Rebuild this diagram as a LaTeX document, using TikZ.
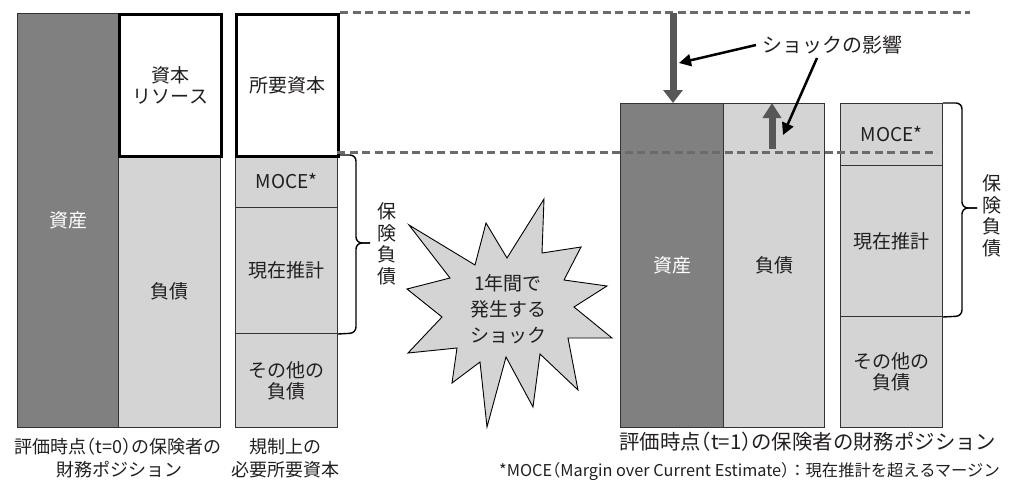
\documentclass[tikz,border=0pt]{standalone}
\usepackage{fontspec}
\setmainfont{Noto Sans CJK JP}
\newfontfamily\hw[RawFeature=+halt]{Noto Sans CJK JP}
\newcommand\lpar{{\hw （}}
\newcommand\rpar{{\hw ）}}
\usetikzlibrary{arrows.meta}
\definecolor{darkg}{HTML}{808080}
\definecolor{lightg}{HTML}{D4D4D4}
\definecolor{arrg}{HTML}{575757}
\definecolor{dashg}{HTML}{6B6B6B}
\definecolor{txt}{HTML}{231F20}
\begin{document}
\begin{tikzpicture}[x=1pt,y=-1pt,
  box/.style={draw=black!80,line width=1pt,inner sep=0pt,anchor=north west,
    font=\fontsize{19}{25}\selectfont,align=center,text=txt},
  darkbox/.style={box,fill=darkg,text=white},
  lightbox/.style={box,fill=lightg},
  capbox/.style={box,fill=white,draw=black,line width=3pt},
  captext/.style={font=\fontsize{18}{22}\selectfont,text=txt,inner sep=0pt},
  vtext/.style={font=\fontsize{19}{21.5}\selectfont,text=txt,align=center,inner sep=0pt},
  bracepath/.style={draw=black,line width=1.4pt,rounded corners=6pt},
  dashline/.style={draw=dashg,line width=3pt,dash pattern=on 8pt off 4.5pt},
  bigarrow/.style={draw=arrg,line width=7pt},
  ptr/.style={draw=black,line width=2.5pt,-{Triangle[width=12pt,length=12pt]}}
]
\useasboundingbox (0,0) rectangle (1012,487);
% ---------- left position (t=0)
\node[darkbox,minimum width=101pt,minimum height=414pt] (a0) at (17,13) {資産};
\node[lightbox,minimum width=102pt,minimum height=272pt] (l0) at (118,155) {負債};
\node[capbox,minimum width=102pt,minimum height=142pt] (cr0) at (118,13) {資本\\[-4pt]リソース};
% ---------- regulatory capital
\node[lightbox,minimum width=102pt,minimum height=52pt] (mo0) at (235,155) {MOCE*};
\node[lightbox,minimum width=102pt,minimum height=126pt] (ce0) at (235,207) {現在推計};
\node[lightbox,minimum width=102pt,minimum height=94pt] (ot0) at (235,333) {その他の\\[-4pt]負債};
\node[capbox,minimum width=102pt,minimum height=142pt] (rq) at (235,13) {所要資本};
% brace left
\draw[bracepath] (mo0.north east) -- (356,155) -- (356,243) -- (370,243);
\draw[bracepath] (ce0.south east) -- (356,333) -- (356,243) -- (370,243);
\node[vtext] (ins0) at (387,244) {保\\険\\負\\債};
% captions left
\node[captext] (c0a) at (118,447) {評価時点\lpar t=0\rpar の保険者の};
\node[captext] (c0b) at (119,470) {財務ポジション};
\node[captext] (c1a) at (285,447) {規制上の};
\node[captext] (c1b) at (285,470) {必要所要資本};
% ---------- shock star
\draw[fill=lightg,draw=black,line width=0.9pt,line join=miter]
 (409,225) -- (475,265) -- (486,223) -- (507,258) -- (544,199) -- (542,253)
 -- (581,247) -- (564,280) -- (607,286) -- (574,307) -- (612,338) -- (568,338)
 -- (578,390) -- (540,354) -- (533,407) -- (506,357) -- (487,427) -- (480,362)
 -- (452,383) -- (457,348) -- (408,353) -- (442,317) -- (407,289) -- (450,278) -- cycle;
\node[font=\fontsize{19}{26}\selectfont,text=txt,align=center,inner sep=0pt] (star) at (508,309) {1年間で\\発生する\\ショック};
% ---------- right position (t=1)
\node[darkbox,minimum width=103pt,minimum height=324pt] (a1) at (620,103) {資産};
\node[lightbox,minimum width=101pt,minimum height=324pt] (l1) at (723,103) {負債};
\node[lightbox,minimum width=102pt,minimum height=62pt] (mo1) at (840,103) {MOCE*};
\node[lightbox,minimum width=102pt,minimum height=151pt] (ce1) at (840,165) {現在推計};
\node[lightbox,minimum width=102pt,minimum height=111pt] (ot1) at (840,316) {その他の\\[-4pt]負債};
% brace right
\draw[bracepath] (mo1.north east) -- (962,103) -- (962,208) -- (977,208);
\draw[bracepath] (ce1.south east) -- (962,316) -- (962,208) -- (977,208);
\node[vtext] (ins1) at (992,216) {保\\険\\負\\債};
% dashed lines
\coordinate (dt) at (970,13);
\coordinate (db) at (937,152);
\draw[dashline] (rq.north east) -- (dt);
\draw[dashline] (337,152) -- (db);
% shock arrows
\coordinate (dtop) at (673,13);
\draw[bigarrow,-{Triangle[width=19pt,length=13pt]}] (dtop) -- (dtop |- a1.north);
\coordinate (ubot) at (772,149);
\draw[bigarrow,-{Triangle[width=18pt,length=15pt]}] (ubot) -- (ubot |- l1.north);
\node[font=\fontsize{20}{24}\selectfont,text=txt,anchor=west,inner sep=0pt] (shock) at (762,45) {ショックの影響};
\coordinate (p1) at (679,63);
\coordinate (s2) at (817,58);
\coordinate (p2) at (783,135);
\draw[ptr] (shock.west) ++(-6,0) -- (p1);
\draw[ptr] (s2) -- (p2);
% captions right
\node[font=\fontsize{20.4}{24}\selectfont,text=txt,anchor=west,inner sep=0pt] (c2) at (619,442) {評価時点\lpar t=1\rpar の保険者の財務ポジション};
\node[font=\fontsize{16.3}{19}\selectfont,text=txt,anchor=east,inner sep=0pt] (fn) at (1000,472) {*MOCE\lpar Margin over Current Estimate\rpar ：現在推計を超えるマージン};
\end{tikzpicture}
\end{document}
